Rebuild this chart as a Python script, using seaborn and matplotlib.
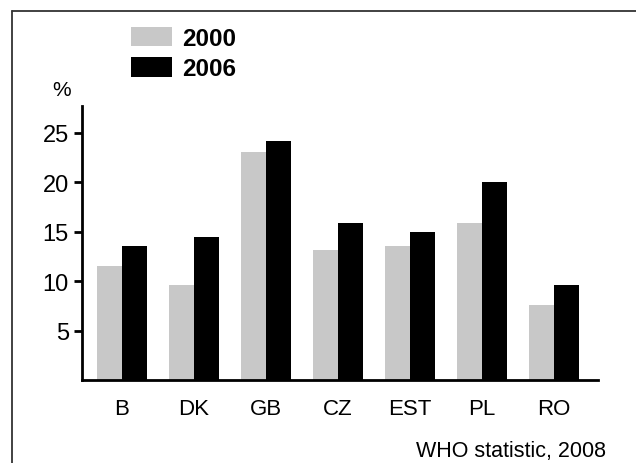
import pandas as pd
import matplotlib.pyplot as plt
import seaborn as sns
from matplotlib.lines import Line2D

# values (% , WHO statistic 2008)
countries = ['B', 'DK', 'GB', 'CZ', 'EST', 'PL', 'RO']
years = ['2000', '2006']
values_2000 = [11.5, 9.6, 23.0, 13.1, 13.5, 15.9, 7.6]
values_2006 = [13.5, 14.5, 24.2, 15.9, 15.0, 20.0, 9.6]
y_ticks = [5, 10, 15, 20, 25]

df = pd.DataFrame({
    'country': countries * 2,
    'year': [years[0]] * len(countries) + [years[1]] * len(countries),
    'value': values_2000 + values_2006,
})

sns.set_theme(style='white')
plt.rcParams['font.family'] = ['Liberation Sans', 'DejaVu Sans']
plt.rcParams['text.color'] = 'black'

fig = plt.figure(figsize=(6.36, 4.64), dpi=100)
ax = fig.add_axes([82 / 636, 1 - 381 / 464, (598 - 82) / 636, (381 - 107) / 464])

sns.barplot(data=df, x='country', y='value', hue='year', order=countries,
            hue_order=years, palette=['#c8c8c8', '#000000'], width=0.69,
            saturation=1, gap=0, linewidth=0, ax=ax)

ax.set_xlim(-0.556, 6.61)
ax.set_ylim(0, 27.7)
ax.set_yticks(y_ticks)
ax.set_xlabel('')
ax.set_ylabel('')
ax.tick_params(axis='y', direction='out', length=5.5, width=2, color='black',
               labelsize=17, pad=4, left=True, labelcolor='black')
ax.tick_params(axis='x', length=0, labelsize=16, pad=13, labelcolor='black')
sns.despine(ax=ax)
for side in ['left', 'bottom']:
    ax.spines[side].set_linewidth(2)
    ax.spines[side].set_color('black')

# legend
handles, labels = ax.get_legend_handles_labels()
leg = ax.legend(handles, labels, loc='upper left',
                bbox_to_anchor=(131 / 636, 1 - 28 / 464),
                bbox_transform=fig.transFigure, frameon=False,
                prop={'size': 17.5, 'weight': 'bold'}, handlelength=1.7,
                handleheight=0.84, handletextpad=0.42, labelspacing=0.3,
                borderpad=0, borderaxespad=0, labelcolor='black')

fig.text(62 / 636, 1 - 91 / 464, '%', ha='center', va='center', fontsize=15)
fig.text(606 / 636, 1 - 457 / 464, 'WHO statistic, 2008', ha='right',
         va='baseline', fontsize=15.5)

# outer frame (cut off at right and bottom)
fig.add_artist(Line2D([12 / 636, 1], [1 - 12 / 464] * 2, color='#333333',
                      lw=1.3, transform=fig.transFigure))
fig.add_artist(Line2D([12 / 636] * 2, [0, 1 - 12 / 464], color='#333333',
                      lw=1.3, transform=fig.transFigure))

fig.savefig('out.png', dpi=100)
